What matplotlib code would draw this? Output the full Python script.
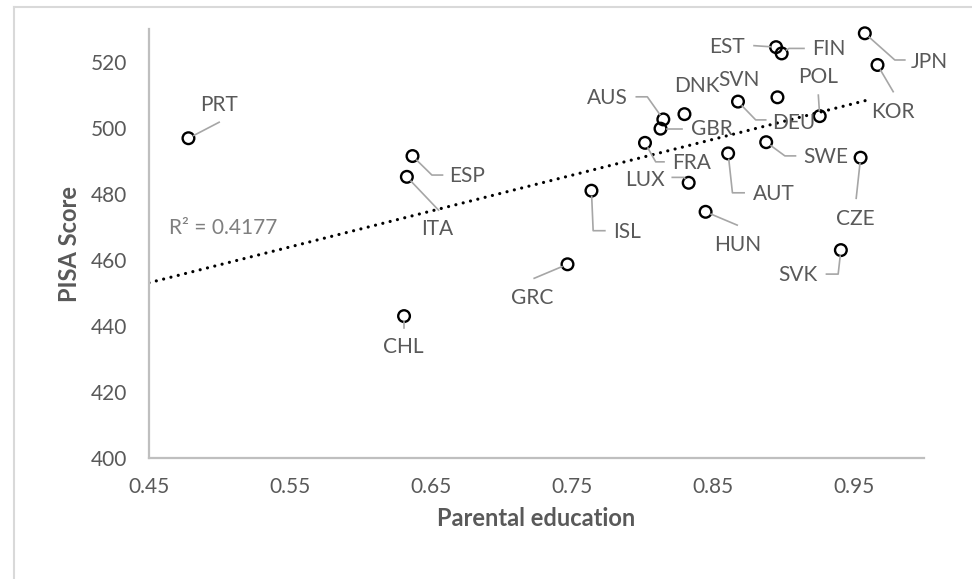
import numpy as np
import matplotlib
matplotlib.use("Agg")
import matplotlib.pyplot as plt
from matplotlib.lines import Line2D

plt.rcParams['font.family'] = ['Lato', 'DejaVu Sans']

# ---------------- data ----------------
countries = ['PRT', 'ESP', 'ITA', 'CHL', 'GRC', 'ISL', 'AUS', 'GBR', 'FRA', 'DNK',
             'LUX', 'HUN', 'AUT', 'DEU', 'SVN', 'POL', 'SWE', 'EST', 'FIN', 'JPN',
             'KOR', 'CZE', 'SVK']
parental_education = [0.478, 0.637, 0.633, 0.631, 0.747, 0.764, 0.815, 0.813, 0.802, 0.830,
                      0.833, 0.845, 0.861, 0.868, 0.896, 0.926, 0.888, 0.895, 0.899, 0.958,
                      0.967, 0.955, 0.941]
pisa_score = [496.9, 491.5, 485.2, 443.0, 458.7, 481.0, 502.6, 499.8, 495.5, 504.2,
              483.4, 474.6, 492.3, 508.0, 509.3, 503.6, 495.7, 524.5, 522.6, 528.7,
              519.1, 491.0, 463.0]
# linear trendline (end points)
trend_x = [0.45, 0.963]
trend_y = [453.1, 508.8]
x_ticks = [0.45, 0.55, 0.65, 0.75, 0.85, 0.95]
x_tick_labels = ['0.45', '0.55', '0.65', '0.75', '0.85', '0.95']
y_ticks = [400, 420, 440, 460, 480, 500, 520]
r2_text = 'R² = 0.4177'

# label placement (pixel offsets from point: text centre, leader path), image coords (y down)
label_layout = {
    'PRT': ((30.7, -33.3), [(30.7, -16)]),
    'ESP': ((55, 20), [(19.4, 19), (30, 19)]),
    'ITA': ((30, 52.6), [(31.7, 33.3)]),
    'CHL': ((-0.7, 30.7), [(0, 12)]),
    'GRC': ((-35, 33.4), [(-33.3, 14)]),
    'ISL': ((36, 41), [(1.7, 40), (13.4, 40)]),
    'AUS': ((-56, -21), [(-16, -22.6), (-27, -22.6)]),
    'GBR': ((51, 0.6), [(21.7, 0)]),
    'FRA': ((46.7, 20), [(10.7, 19), (19, 19)]),
    'DNK': ((12.3, -28), []),
    'LUX': ((-43.7, -2.7), [(-4.7, -5.4), (-16.4, -5.4)]),
    'HUN': ((31.6, 33.3), [(31.6, 13.3)]),
    'AUT': ((45.3, 41), [(4.3, 39.4), (16, 39.4)]),
    'DEU': ((56, 21.6), [(17.7, 18.3), (27.7, 18.3)]),
    'SVN': ((-38.3, -17.3), []),
    'POL': ((-1.4, -39.3), [(-1.4, -21)]),
    'SWE': ((59.3, 14.4), [(18.7, 13.7), (29.3, 13.7)]),
    'EST': ((-49, -0.6), [(-22, -1.5)]),
    'FIN': ((47.3, -4), [(7.3, -5), (22.3, -5)]),
    'JPN': ((65, 28.4), [(30, 26.7), (40, 26.7)]),
    'KOR': ((15.7, 46.7), [(15.7, 26.7)]),
    'CZE': ((-5, 61.6), [(-4.4, 40.6)]),
    'SVK': ((-42.7, 25), [(-2.7, 24), (-14.4, 24)]),
}

W, H = 972, 579
DPI = 100
fig = plt.figure(figsize=(W / DPI, H / DPI), dpi=DPI)
ax = fig.add_axes([149 / W, (H - 458) / H, (924 - 149) / W, (458 - 29) / H])

text_col = '#595959'
spine_col = '#bfbfbf'
FS = 15
FS_T = 17

ax.set_xlim(0.45, 1.0)
ax.set_ylim(400, 530)
ax.set_xticks(x_ticks)
ax.set_xticklabels(x_tick_labels)
ax.set_yticks(y_ticks)
ax.tick_params(axis='both', length=0, labelsize=FS, labelcolor=text_col)
ax.tick_params(axis='x', pad=14)
ax.tick_params(axis='y', pad=16)
for s in ['top', 'right']:
    ax.spines[s].set_visible(False)
for s in ['left', 'bottom']:
    ax.spines[s].set_color(spine_col)
    ax.spines[s].set_linewidth(1.6)

x = np.array(parental_education)
y = np.array(pisa_score)

# trendline
ax.plot(trend_x, trend_y, color='black', lw=2.3, linestyle=(0, (0.01, 2.35)),
        dash_capstyle='round', zorder=2)

ax.scatter(x, y, s=8.4 ** 2, facecolors='none', edgecolors='black', linewidths=1.7,
           zorder=4, clip_on=False)

ax.set_xlabel('Parental education', fontsize=FS_T, fontweight='bold', color=text_col, labelpad=7)
ax.set_ylabel('PISA Score', fontsize=FS_T, fontweight='bold', color=text_col, labelpad=7)

fig.canvas.draw()

# labels + leader lines in display pixels
R = 6.0
for name, xv, yv in zip(countries, x, y):
    px, py = ax.transData.transform((xv, yv))
    (tdx, tdy), path = label_layout[name]
    fig.text((px + tdx) / W, (py - tdy) / H, name, ha='center', va='center',
             fontsize=FS, color=text_col)
    if path:
        fx, fy = path[0]
        d = np.hypot(fx, fy)
        sx, sy = fx / d * R, fy / d * R
        pts = [(sx, sy)] + path
        xs = [(px + a) / W for a, b in pts]
        ys = [(py - b) / H for a, b in pts]
        fig.add_artist(Line2D(xs, ys, transform=fig.transFigure, color='#a6a6a6', lw=1.2, zorder=3))

# R^2 text
fig.text(223 / W, (H - 228) / H, r2_text, ha='center', va='center', fontsize=FS, color='#7f7f7f')

# chart border (partially visible)
fig.add_artist(Line2D([14 / W, 14 / W], [0, (H - 7) / H], transform=fig.transFigure, color='#d9d9d9', lw=1.5))
fig.add_artist(Line2D([14 / W, 1], [(H - 7) / H, (H - 7) / H], transform=fig.transFigure, color='#d9d9d9', lw=1.5))

fig.savefig('out.png', dpi=DPI)
